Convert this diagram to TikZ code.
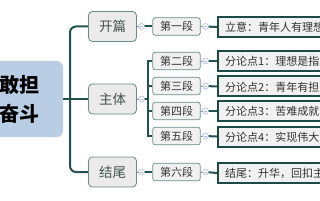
\documentclass[tikz,border=0pt]{standalone}
\usepackage{fontspec}
\newfontfamily\cjk{Noto Sans CJK SC}
\definecolor{rootfill}{HTML}{B9CDE5}
\definecolor{linec}{HTML}{23534C}
\definecolor{lborder}{HTML}{6A8A84}
\definecolor{lfill}{HTML}{EBEBEB}
\definecolor{ltext}{HTML}{44524F}
\definecolor{dborder}{HTML}{1C4A44}
\definecolor{dfill}{HTML}{F1F1F1}
\definecolor{circc}{HTML}{A9B7E3}
\tikzset{
  rootbox/.style={fill=rootfill, rounded corners=6pt, minimum width=88pt, minimum height=76pt,
    align=center, font=\cjk\bfseries\fontsize{20}{29}\selectfont, text=black, inner sep=0pt},
  lvlone/.style={draw=lborder, fill=lfill, line width=0.8pt, rounded corners=4pt, minimum width=48pt,
    minimum height=30pt, inner sep=0pt, font=\cjk\fontsize{13.5}{15}\selectfont, text=ltext},
  lvltwo/.style={draw=lborder, fill=dfill, line width=0.7pt, rounded corners=2.5pt, minimum width=47.5pt,
    minimum height=17.5pt, inner sep=0pt, font=\cjk\fontsize{11}{13}\selectfont, text=black!80},
  lvlthree/.style={draw=dborder, fill=dfill, line width=2pt, minimum width=120pt, minimum height=20pt,
    inner sep=0pt, anchor=west, font=\cjk\fontsize{11}{13}\selectfont, text=black!80},
  ltxt/.style={anchor=west, inner sep=0pt, font=\cjk\fontsize{11}{13}\selectfont, text=black!80},
  conn/.style={draw=linec, line width=2pt},
  thinconn/.style={draw=lborder, line width=0.8pt},
  collapse/.style={circle, draw=circc, fill=white, line width=0.6pt, minimum size=6pt, inner sep=0pt,
    path picture={\draw[circc, line width=0.5pt] ([xshift=1.3pt]path picture bounding box.west) -- ([xshift=-1.3pt]path picture bounding box.east);}}
}
\begin{document}
\begin{tikzpicture}[x=1pt, y=-1pt]
\useasboundingbox (0,0) rectangle (320,200);
\clip (0,0) rectangle (320,200);
% coordinates
\coordinate (trunk) at (70,99);
\coordinate (c1) at (141.5,26.5);
\coordinate (c2) at (141.5,99);
\coordinate (c3) at (141.5,172);
\coordinate (br) at (147.5,99);
\coordinate (e1) at (205.5,26.5);
\coordinate (e2) at (205.5,61);
\coordinate (e3) at (205.5,86);
\coordinate (e4) at (205.5,111);
\coordinate (e5) at (205.5,136);
\coordinate (e6) at (205.5,172);
% root
\node[rootbox] (root) at (19,99) {敢担\\奋斗};
% level one
\node[lvlone] (kp) at (112.5,26.5) {开篇};
\node[lvlone] (zt) at (112.5,99) {主体};
\node[lvlone] (jw) at (112.5,172) {结尾};
% level two
\node[lvltwo] (d1) at (176.5,26.5) {第一段};
\node[lvltwo] (d2) at (176.5,61) {第二段};
\node[lvltwo] (d3) at (176.5,86) {第三段};
\node[lvltwo] (d4) at (176.5,111) {第四段};
\node[lvltwo] (d5) at (176.5,136) {第五段};
\node[lvltwo] (d6) at (176.5,172) {第六段};
% level three boxes
\node[lvlthree] (t1) at (217,27) {};
\node[lvlthree] (t2) at (217,61) {};
\node[lvlthree] (t3) at (217,86.5) {};
\node[lvlthree] (t4) at (217,111) {};
\node[lvlthree] (t5) at (217,136.5) {};
\node[lvlthree] (t6) at (217,173) {};
\node[ltxt] (x1) at (225,27.5) {立意：青年人有理想};
\node[ltxt] (x2) at (225,61.5) {分论点1：理想是指};
\node[ltxt] (x3) at (225,87) {分论点2：青年有担};
\node[ltxt] (x4) at (225,111.5) {分论点3：苦难成就};
\node[ltxt] (x5) at (225,137) {分论点4：实现伟大};
\node[ltxt] (x6) at (225,173.5) {结尾：升华，回扣主};
% connectors
\draw[conn] (root.east) -- (trunk);
\draw[conn, rounded corners=6pt] (kp.west) -| (trunk) |- (jw.west);
\draw[conn] (trunk) -- (zt.west);
\draw[thinconn] (kp.east) -- (c1);
\draw[thinconn] (zt.east) -- (c2);
\draw[thinconn] (jw.east) -- (c3);
\draw[conn] (c1) -- (d1.west);
\draw[conn] (c3) -- (d6.west);
\draw[conn] (c2) -- (br);
\draw[conn] (d2.west) -| (br) |- (d5.west);
\draw[conn] (d3.west) -| (br);
\draw[conn] (d4.west) -| (br);
\foreach \i in {1,...,6} {
  \draw[thinconn] (d\i.east) -- (e\i);
  \draw[conn] (e\i) -- (t\i.west);
}
% collapse markers
\foreach \c in {c1,c2,c3,e1,e2,e3,e4,e5,e6} {
  \node[collapse] (m\c) at (\c) {};
}
\end{tikzpicture}
\end{document}
